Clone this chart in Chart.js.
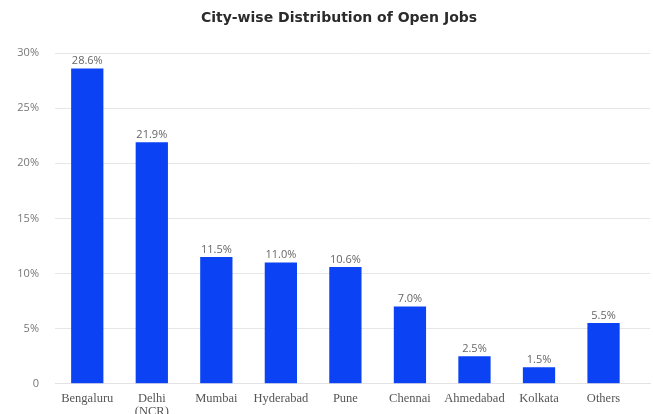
<!DOCTYPE html>
<html>
<head>
<meta charset="utf-8">
<script src="https://cdn.jsdelivr.net/npm/chart.js@4"></script>
<style>
  html, body { margin: 0; padding: 0; background: #fff; }
  #wrap { width: 653px; height: 414px; }
</style>
</head>
<body>
<div id="wrap"><canvas id="jobsChart"></canvas></div>
<script>
// datos del grafico
const chartTitle = "City-wise Distribution of Open Jobs";
const cities = ["Bengaluru", ["Delhi", "(NCR)"], "Mumbai", "Hyderabad", "Pune", "Chennai", "Ahmedabad", "Kolkata", "Others"];
const shares = [28.6, 21.9, 11.5, 11.0, 10.6, 7.0, 2.5, 1.5, 5.5];
const yTicks = [0, 5, 10, 15, 20, 25, 30];

// etiquetas encima de cada barra + titulo (un poco a la derecha del centro, como el original)
const barLabels = {
  id: "barLabels",
  afterDatasetsDraw(chart) {
    const ctx = chart.ctx;
    const meta = chart.getDatasetMeta(0);
    ctx.save();
    ctx.font = "11px 'Open Sans'";
    ctx.fillStyle = "#666";
    ctx.textAlign = "center";
    ctx.textBaseline = "bottom";
    meta.data.forEach((bar, i) => {
      ctx.fillText(shares[i].toFixed(1) + "%", bar.x, bar.y - 2);
    });
    ctx.font = "bold 14px 'DejaVu Sans'";
    ctx.fillStyle = "#2b2b2b";
    ctx.textBaseline = "middle";
    ctx.fillText(chartTitle, 339, 18);
    ctx.restore();
  }
};

new Chart(document.getElementById("jobsChart").getContext("2d"), {
  type: "bar",
  data: {
    labels: cities,
    datasets: [{
      label: "Open Jobs",
      data: shares,
      backgroundColor: "#0a42f4",
      borderWidth: 0,
      barPercentage: 0.5,
      categoryPercentage: 1
    }]
  },
  options: {
    responsive: true,
    maintainAspectRatio: false,
    animation: false,
    layout: { padding: { top: 53, right: 3, left: 0, bottom: -12 } },
    plugins: {
      legend: { display: false },
      tooltip: { enabled: false },
      title: { display: false }
    },
    scales: {
      x: {
        // espacio vacio a la derecha de "Others": la rejilla sigue hasta el borde
        afterBuildTicks: axis => { axis._valueRange = 9.22; },
        grid: { display: false, drawTicks: false },
        border: { display: true, color: "#e3e3e3" },
        ticks: {
          color: "#555",
          font: { family: "'Liberation Serif'", size: 12.5, lineHeight: 1.05 },
          padding: 8,
          maxRotation: 0,
          autoSkip: false
        }
      },
      y: {
        min: 0,
        max: 30,
        afterBuildTicks: axis => { axis.ticks = yTicks.map(v => ({ value: v })); },
        afterFit: axis => { axis.width = 55; },
        grid: { color: "#e6e6e6", drawTicks: false },
        border: { display: false },
        ticks: {
          color: "#777",
          font: { family: "'Open Sans'", size: 11 },
          padding: 16,
          callback: v => v === 0 ? "0" : v + "%"
        }
      }
    }
  },
  plugins: [barLabels]
});
</script>
</body>
</html>
